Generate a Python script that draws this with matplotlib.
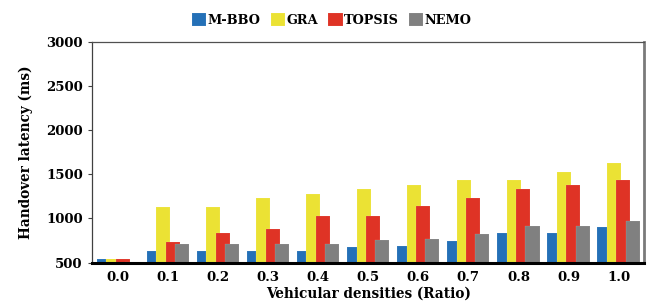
"""Handover latency vs vehicular density, grouped bars."""

import matplotlib

matplotlib.use("Agg", force=True)

import matplotlib.pyplot as plt
import numpy as np

densities = ["0.0", "0.1", "0.2", "0.3", "0.4", "0.5", "0.6", "0.7", "0.8", "0.9", "1.0"]
mbbo = [540, 635, 635, 635, 635, 680, 685, 745, 835, 835, 905]
gra = [540, 1130, 1130, 1230, 1280, 1330, 1380, 1430, 1430, 1530, 1630]
topsis = [535, 735, 830, 880, 1030, 1030, 1135, 1235, 1330, 1380, 1430]
nemo = [510, 715, 715, 715, 715, 755, 765, 820, 915, 915, 970]

series = [
    ("M-BBO", mbbo, "#2470b7"),
    ("GRA", gra, "#ebe234"),
    ("TOPSIS", topsis, "#df3325"),
    ("NEMO", nemo, "#808080"),
]

plt.rcParams["font.family"] = ["DejaVu Serif"]
plt.rcParams["font.weight"] = "bold"

fig = plt.figure(figsize=(6.48, 3.04), dpi=100)
ax = fig.add_axes([0.1427, 0.1365, 0.8505, 0.7255])

x = np.arange(len(densities))
step = 0.1875
width = 0.28
base = 500
for i, (name, values, color) in enumerate(series):
    heights = np.asarray(values, dtype=float) - base
    ax.bar(
        x + (i - 1.5) * step,
        heights,
        width=width,
        bottom=base,
        color=color,
        edgecolor=(1, 1, 1, 0.25),
        linewidth=0.3,
        label=name,
        zorder=2 + i,
    )

ax.set_xlim(-0.507, 10.5)
ax.set_ylim(500, 3000)
ax.set_yticks(np.arange(500, 3001, 500))
ax.set_xticks(x)
ax.set_xticklabels(densities)
ax.tick_params(axis="x", length=0, pad=6, labelsize=9.5)
ax.tick_params(axis="y", length=3, width=0.8, color="#404040", pad=4, labelsize=9.5)
for label in ax.get_xticklabels() + ax.get_yticklabels():
    label.set_fontweight("bold")

ax.spines["bottom"].set_color("black")
ax.spines["bottom"].set_linewidth(2.2)
ax.spines["bottom"].set_zorder(10)
ax.spines["left"].set_color("#404040")
ax.spines["left"].set_linewidth(0.9)
ax.spines["top"].set_color("#505050")
ax.spines["top"].set_linewidth(0.9)
ax.spines["right"].set_color("#7a7a7a")
ax.spines["right"].set_linewidth(2.0)

ax.set_xlabel("Vehicular densities (Ratio)", fontsize=9.8, fontweight="bold", labelpad=2)
ax.set_ylabel("Handover latency (ms)", fontsize=9.8, fontweight="bold", labelpad=9)

fig.legend(
    loc="center",
    bbox_to_anchor=(0.512, 0.934),
    ncol=4,
    frameon=False,
    handlelength=1.1,
    handleheight=1.1,
    handletextpad=0.1,
    columnspacing=0.8,
    prop={"weight": "bold", "size": 9.3},
)

fig.savefig("out.png", dpi=100)
plt.close(fig)
